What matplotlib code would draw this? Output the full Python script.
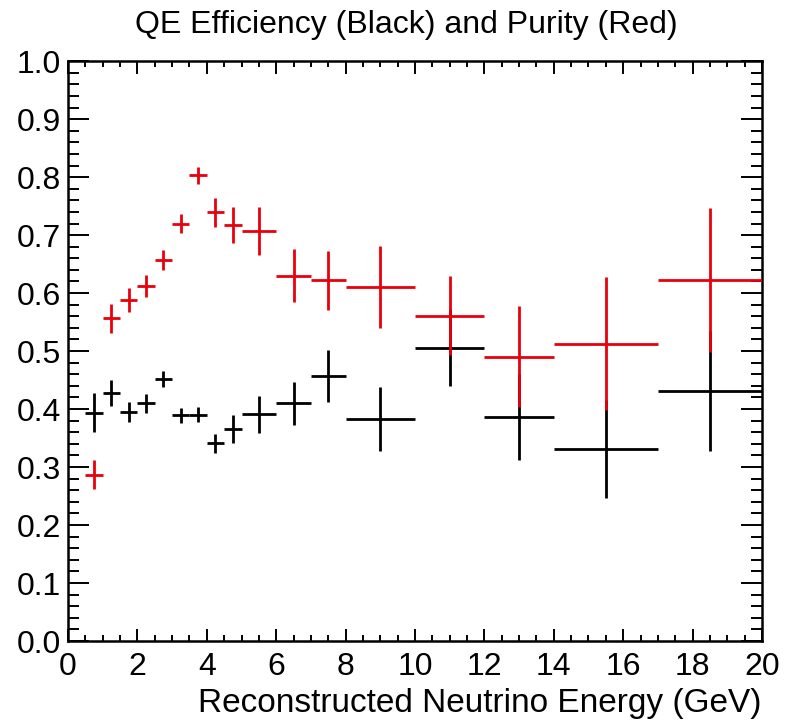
import matplotlib.pyplot as plt
import numpy as np
from matplotlib.ticker import MultipleLocator

# bin edges of reconstructed energy (GeV)
bin_edges = [0.5, 1.0, 1.5, 2.0, 2.5, 3.0, 3.5, 4.0, 4.5, 5.0, 6.0, 7.0, 8.0, 10.0, 12.0, 14.0, 17.0, 20.0]

# QE efficiency (black)
efficiency = [0.394, 0.428, 0.395, 0.410, 0.452, 0.389, 0.390, 0.341, 0.365, 0.391, 0.410,
              0.457, 0.383, 0.506, 0.386, 0.331, 0.431]
efficiency_err = [0.034, 0.022, 0.017, 0.016, 0.014, 0.013, 0.013, 0.016, 0.024, 0.032, 0.037,
                  0.045, 0.055, 0.066, 0.074, 0.084, 0.103]

# QE purity (red)
purity = [0.287, 0.557, 0.588, 0.612, 0.657, 0.720, 0.803, 0.739, 0.717, 0.707, 0.630,
          0.622, 0.611, 0.561, 0.490, 0.513, 0.622]
purity_err = [0.025, 0.025, 0.021, 0.019, 0.017, 0.017, 0.015, 0.025, 0.031, 0.041, 0.046,
              0.051, 0.071, 0.068, 0.087, 0.114, 0.124]

plt.rcParams['font.family'] = ['Liberation Sans', 'DejaVu Sans']

edges = np.array(bin_edges)
centers = 0.5 * (edges[:-1] + edges[1:])
half_widths = 0.5 * (edges[1:] - edges[:-1])

fig = plt.figure(figsize=(7.88, 7.28), dpi=100)
ax = fig.add_axes([0.0863, 0.1195, 0.8807, 0.7965])

ax.errorbar(centers, efficiency, xerr=half_widths, yerr=efficiency_err, fmt='none',
            ecolor='black', elinewidth=2.0, capsize=0, zorder=2)
ax.errorbar(centers, purity, xerr=half_widths, yerr=purity_err, fmt='none',
            ecolor='#e8000b', elinewidth=2.0, capsize=0, zorder=3)

ax.set_xlim(0, 20)
ax.set_ylim(0, 1)
ax.xaxis.set_major_locator(MultipleLocator(2))
ax.xaxis.set_minor_locator(MultipleLocator(0.5))
ax.yaxis.set_major_locator(MultipleLocator(0.1))
ax.yaxis.set_minor_locator(MultipleLocator(0.02))
ax.yaxis.set_major_formatter(plt.FormatStrFormatter('%.1f'))

ax.tick_params(which='both', direction='in', top=True, right=True, width=1.4, labelsize=23)
ax.tick_params(axis='x', which='major', length=9, pad=8)
ax.tick_params(axis='x', which='minor', length=4.5)
ax.tick_params(axis='y', which='major', length=15, pad=5)
ax.tick_params(axis='y', which='minor', length=8)
for spine in ax.spines.values():
    spine.set_linewidth(1.8)

ax.set_title('QE Efficiency (Black) and Purity (Red)', fontsize=23, pad=20, x=0.487)
ax.set_xlabel('Reconstructed Neutrino Energy (GeV)', fontsize=24, loc='right', labelpad=4)

fig.savefig('out.png', dpi=100)
